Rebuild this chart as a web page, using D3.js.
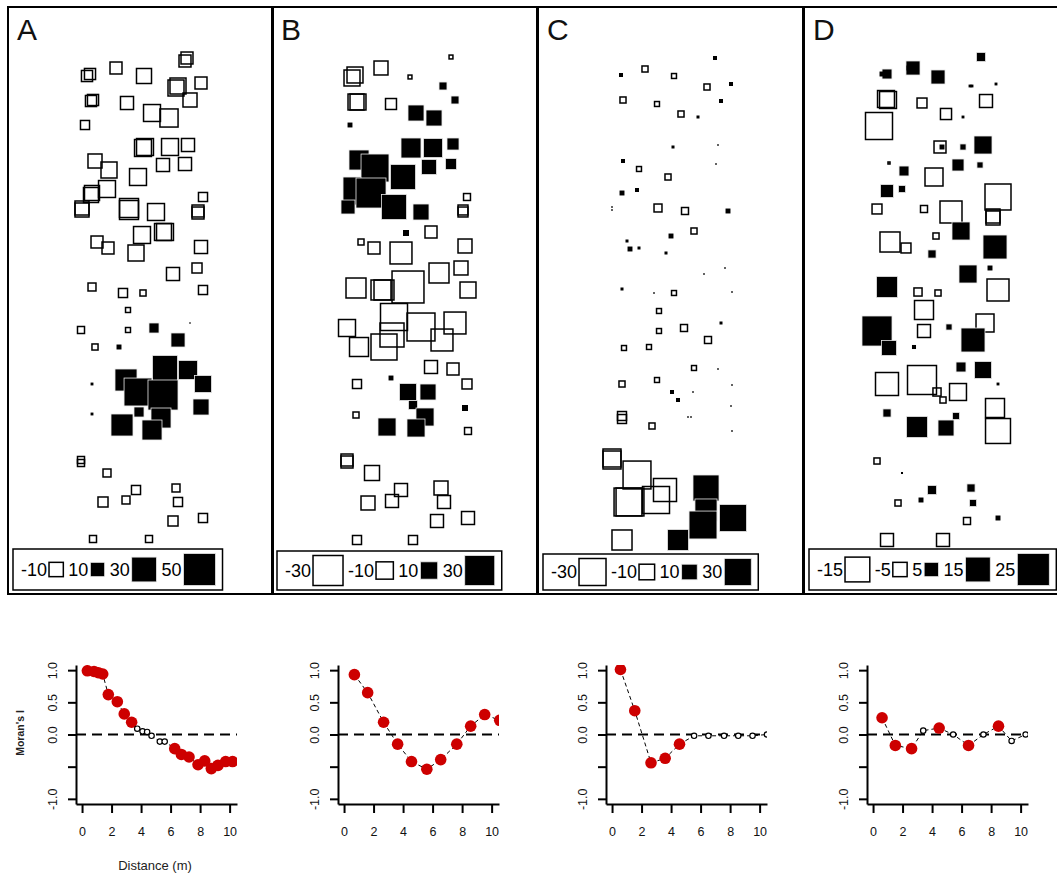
<!DOCTYPE html>
<html>
<head>
<meta charset="utf-8">
<script src="https://cdn.jsdelivr.net/npm/d3@7.9.0/dist/d3.min.js"></script>
<style>
  body { margin: 0; background: #fff; }
  svg { font-family: "Liberation Sans", Arial, sans-serif; }
</style>
</head>
<body>
<svg id="chart" width="1057" height="873"></svg>
<script>
// bubble maps: [x, y, residual] in field units, y counted from the top of the map
const residA = [[179,51,-7],[177,54,-7],[82,67,-6],[79,69,-6],[108,61,-7],[136,69,-11],[170,79,-12.5],[168,81,-12.5],[193,76,-7],[85,93,-6],[83,94,-6],[119,96,-8.3],[182,93,-9.6],[144,106,-14],[161,111,-16],[77,118,-4],[137,140,-14],[135,141,-14],[162,140,-14],[180,138,-8.3],[87,154,-9.6],[155,158,-8.3],[177,157,-8.3],[101,163,-12.5],[130,170,-14],[99,182,-14],[84,186,-11],[83,188,-11],[74,201,-9.6],[74,203,-9.6],[195,190,-4],[121,201,-17.6],[121,203,-17.6],[148,205,-14],[190,204,-7],[190,206,-7],[134,228,-14],[157,225,-14],[155,225,-14],[89,235,-7],[100,241,-7],[128,246,-12.5],[193,240,-8.3],[165,267,-8.3],[189,261,-4.9],[84,280,-3.1],[115,286,-4],[135,286,-1.8],[195,283,-4],[120,303,-1.2],[73,323,-2.4],[120,323,-1.2],[146,321,4.9],[182,316,0.1],[170,333,9.6],[87,340,-1.8],[111,340,1.2],[157,361,30.5],[180,363,17.6],[118,373,23.6],[84,377,0.4],[130,385,38],[155,388,44],[195,377,14],[193,400,12.5],[84,407,0.4],[131,405,4.9],[153,411,19.5],[114,418,23.6],[144,423,19.5],[73,453,-2.4],[73,456,-2.4],[99,466,-3.1],[128,483,-4],[118,493,-3.1],[95,495,-4.9],[168,481,-3.1],[170,495,-4],[165,514,-4.9],[195,511,-4],[85,532,-2.4],[141,532,-2.4]];

const residB = [[179,50,-0.5],[83,68,-8.5],[80,71,-8.5],[109,61,-6.5],[138,70,-0.5],[171,79,2.1],[183,93,2.1],[86,95,-8.5],[84,95,-8.5],[119,97,-4],[144,106,8.5],[162,111,8.5],[78,118,0.8],[139,141,13.3],[161,141,12],[181,137,4.8],[87,153,13.3],[85,184,26],[103,161,26],[131,170,20.8],[157,160,7.5],[179,157,4],[99,186,30],[76,200,6.5],[122,200,20.8],[149,205,8.5],[195,190,-1.6],[191,203,-3.3],[191,205,-3.3],[159,225,-4.8],[134,226,1.2],[89,235,-1.2],[102,241,-4.8],[129,246,-16],[193,239,-6.5],[189,261,-6.5],[167,266,-13.3],[84,281,-13.3],[112,283,-13.3],[109,283,-13.3],[136,280,-34],[196,283,-8.5],[122,310,-24.3],[149,320,-26],[183,316,-16],[75,321,-9.6],[87,340,-12],[112,340,-22.5],[120,328,-19.2],[170,333,-16],[159,360,-5.6],[181,362,-4.8],[85,377,-2.7],[119,371,0.8],[136,385,9.6],[156,385,8.5],[195,377,-3.3],[84,408,-1.2],[141,398,2.7],[153,410,10.8],[115,420,10.8],[144,421,10.8],[193,401,1.2],[196,424,-1.6],[75,453,-4.8],[75,455,-4.8],[100,466,-7.5],[129,483,-5.6],[120,494,-5.6],[96,496,-6.5],[169,481,-6.5],[172,495,-5.6],[165,514,-5.6],[196,511,-5.6],[85,533,-2.7],[141,533,-2.7]];

const residC = [[177,51,0.66],[83,68,0.66],[107,62,-1.5],[136,69,-1],[169,80,-1.5],[193,77,0.66],[85,93,-1.5],[119,97,-1],[143,107,-1.5],[160,110,0.37],[183,94,0.66],[135,140,0.37],[180,138,0.1],[85,154,0.66],[178,157,0.1],[101,162,-1],[130,170,-1.5],[84,186,1],[99,183,0.66],[74,200,0.1],[74,203,0.1],[120,201,-2.6],[147,204,-2],[190,204,1],[133,229,1],[156,224,-1.5],[89,234,0.37],[92,242,1],[101,241,0.37],[128,246,0.37],[166,267,0.1],[187,261,0.1],[84,282,0.37],[116,286,0.1],[136,286,-1],[194,285,0.1],[121,304,-1],[121,324,-1],[146,321,-2],[183,316,0.37],[170,333,-2],[86,341,-1],[111,340,-1],[156,361,-1],[180,362,0.1],[84,377,-1.5],[119,373,-1],[194,378,0.1],[134,385,0.66],[140,393,0.66],[155,385,0.1],[193,399,0.1],[84,409,-3.3],[84,412,-3.3],[114,419,-1.5],[150,410,0.1],[153,410,0.1],[194,424,0.1],[74,451,-13.3],[74,453,-13.3],[99,468,-32],[127,483,-21.8],[92,495,-32],[90,495,-32],[118,493,-30],[168,481,27.8],[168,503,20],[195,511,30],[165,518,32],[140,533,18],[84,533,-16.5]];

const residD = [[177,50,2],[83,67,2.4],[78,67,0.6],[109,61,4.8],[105,61,0.6],[134,70,4.8],[168,79,0.2],[166,79,0.2],[192,77,0.2],[84,93,-7],[82,92,-7],[118,96,-2.4],[142,107,-3],[159,110,0.2],[182,94,-4.1],[75,119,-17.8],[136,140,-3.5],[138,140,0.6],[159,140,0.9],[179,138,7.9],[85,156,-0.1],[154,158,3.5],[176,158,0.9],[100,164,2.4],[130,170,-7.9],[83,184,4.1],[98,182,1.2],[194,190,-16.5],[189,209,-4.8],[189,211,-4.8],[73,202,-2.4],[120,202,-1.2],[147,205,-11.8],[157,224,7.9],[86,235,-9.8],[102,241,-2.4],[132,229,-0.9],[128,247,1.6],[191,240,14],[164,267,7.9],[186,261,0.6],[83,280,10.8],[114,285,-1.6],[134,286,-0.9],[194,283,-11.8],[120,303,-8.8],[73,324,22],[85,341,5.5],[120,324,-4.1],[145,320,0.9],[181,316,-7.9],[169,333,14],[110,340,0.4],[157,360,2.4],[179,363,7],[194,377,0.2],[83,377,-12.9],[118,373,-20.5],[133,385,-1.6],[139,393,-0.9],[154,385,-7],[191,401,-8.8],[194,424,-15.2],[83,406,1.6],[113,420,10.8],[142,421,6.2],[152,409,1.2],[73,454,-0.9],[98,466,0.1],[128,483,2],[167,481,1.6],[117,493,0.6],[94,496,-0.9],[169,496,1.2],[163,514,-1.2],[194,511,0.6],[83,533,-4.1],[139,533,-4.1]];

// legend key values
const keysA = [-10, 10, 30, 50];
const keysB = [-30, -10, 10, 30];
const keysC = [-30, -10, 10, 30];
const keysD = [-15, -5, 5, 15, 25];

// correlograms: lag distance (m), Moran's I, significant?
const lagsA = [0.36,0.81,1.1,1.4,1.78,2.39,2.86,3.36,3.74,4.1,4.41,4.71,5.27,5.6,6.28,6.73,7.25,7.86,8.31,8.76,9.21,9.73,10.2];
const moranA = [0.99,0.98,0.96,0.94,0.62,0.51,0.32,0.19,0.09,0.05,0.04,-0.02,-0.11,-0.11,-0.22,-0.31,-0.35,-0.47,-0.41,-0.53,-0.48,-0.42,-0.42];
const sigA = [1,1,1,1,1,1,1,1,0,0,0,0,0,0,1,1,1,1,1,1,1,1,1];

const lagsB = [0.7,1.6,2.68,3.63,4.57,5.61,6.55,7.64,8.58,9.53,10.55];
const moranB = [0.93,0.65,0.19,-0.15,-0.42,-0.54,-0.39,-0.15,0.13,0.31,0.22];
const sigB = [1,1,1,1,1,1,1,1,1,1,1];

const lagsC = [0.57,1.54,2.64,3.6,4.57,5.56,6.53,7.59,8.55,9.52,10.5];
const moranC = [1.01,0.37,-0.44,-0.37,-0.15,-0.02,-0.02,-0.02,-0.02,-0.02,0];
const sigC = [1,1,1,1,1,0,0,0,0,0,0];

const lagsD = [0.61,1.51,2.61,3.4,4.48,5.43,6.47,7.48,8.5,9.39,10.34];
const moranD = [0.26,-0.17,-0.22,0.06,0.1,0.0,-0.17,0.0,0.13,-0.1,0.0];
const sigD = [1,1,1,0,1,0,1,0,1,0,0];

const svg = d3.select("#chart");

// ---- bubble maps
const mapW = 265, mapH = 587, mapTop = 7;
const fx = d3.scaleLinear().domain([0, 265]).range([0, mapW]);
const fy = d3.scaleLinear().domain([0, 587]).range([0, mapH]);

const maps = [
  { label: "A", left: 8,   pts: residA, keys: keysA, maxV: 50, maxS: 32 },
  { label: "B", left: 272, pts: residB, keys: keysB, maxV: 30, maxS: 30 },
  { label: "C", left: 538, pts: residC, keys: keysC, maxV: 30, maxS: 27 },
  { label: "D", left: 804, pts: residD, keys: keysD, maxV: 25, maxS: 32 }
];

function drawSquare(sel, s, v) {
  sel.attr("fill", v > 0 ? "#000" : "none")
    .attr("stroke", v > 0 ? (s > 6 ? "#e8e8e8" : "none") : "#000")
    .attr("stroke-width", v > 0 ? 0.8 : 1.5);
}

maps.forEach(m => {
  const g = svg.append("g").attr("transform", `translate(${m.left},${mapTop})`);
  const size = d3.scaleSqrt().domain([0, m.maxV]).range([0, m.maxS]);

  g.append("rect")
    .attr("width", mapW).attr("height", mapH)
    .attr("fill", "none").attr("stroke", "#000").attr("stroke-width", 2);

  g.append("text").text(m.label)
    .attr("x", 9).attr("y", 33)
    .attr("font-size", 30).attr("fill", "#111");

  g.selectAll("rect.pt").data(m.pts).join("rect")
    .attr("class", "pt")
    .each(function(d) {
      const s = size(Math.abs(d[2]));
      d3.select(this)
        .attr("x", fx(d[0]) - s / 2).attr("y", fy(d[1]) - s / 2)
        .attr("width", s).attr("height", s)
        .call(drawSquare, s, d[2]);
    });

  // legend
  const lg = g.append("g");
  const boxH = m.maxS + 9, boxBottom = 583;
  const mid = boxBottom - boxH / 2;
  const box = lg.append("rect");
  let cx = 13;
  m.keys.forEach(k => {
    const t = lg.append("text").text(String(k))
      .attr("x", cx).attr("y", mid).attr("dy", "0.35em")
      .attr("font-size", 18).attr("fill", "#000");
    cx += t.node().getComputedTextLength() + 2;
    const s = size(Math.abs(k));
    lg.append("rect")
      .attr("x", cx).attr("y", mid - s / 2)
      .attr("width", s).attr("height", s)
      .call(drawSquare, s, k);
    cx += s + 5;
  });
  box.attr("x", 5).attr("y", boxBottom - boxH)
    .attr("width", cx - 3).attr("height", boxH)
    .attr("fill", "#fff").attr("stroke", "#000").attr("stroke-width", 1.5);
});

// ---- correlograms
const plotTop = 665, plotBottom = 804, plotW = 161;
const cy = d3.scaleLinear().domain([-1.08, 1.08]).range([plotBottom, plotTop]);

const corrs = [
  { left: 76,  lags: lagsA, moran: moranA, sig: sigA },
  { left: 338, lags: lagsB, moran: moranB, sig: sigB },
  { left: 606, lags: lagsC, moran: moranC, sig: sigC },
  { left: 867, lags: lagsD, moran: moranD, sig: sigD }
];

const fontFam = "Liberation Sans, Arial, sans-serif";

corrs.forEach((c, i) => {
  const cx = d3.scaleLinear().domain([-0.41, 10.5]).range([c.left, c.left + plotW]);
  const pts = c.lags.map((l, j) => ({ x: l, y: c.moran[j], sig: c.sig[j] }));

  svg.append("clipPath").attr("id", "clip" + i)
    .append("rect").attr("x", c.left).attr("y", plotTop)
    .attr("width", plotW).attr("height", plotBottom - plotTop);

  const xa = svg.append("g")
    .attr("transform", `translate(0,${plotBottom})`)
    .call(d3.axisBottom(cx).tickValues([0, 2, 4, 6, 8, 10])
      .tickSize(9).tickSizeOuter(0).tickPadding(14));
  const ya = svg.append("g")
    .attr("transform", `translate(${c.left},0)`)
    .call(d3.axisLeft(cy).tickValues([-1, -0.5, 0, 0.5, 1])
      .tickSize(8).tickSizeOuter(0)
      .tickFormat(d => d === -0.5 ? "" : d.toFixed(1)));

  [xa, ya].forEach(a => {
    a.attr("font-family", fontFam).attr("font-size", 12.5);
    a.select(".domain").attr("stroke-width", 2);
    a.selectAll(".tick line").attr("stroke-width", 2);
    a.selectAll(".tick text").attr("fill", "#111");
  });
  ya.selectAll(".tick text")
    .attr("x", null).attr("dy", null)
    .attr("text-anchor", "middle")
    .attr("transform", "translate(-19,0) rotate(-90)");

  svg.append("line")
    .attr("x1", c.left).attr("x2", c.left + plotW)
    .attr("y1", cy(0)).attr("y2", cy(0))
    .attr("stroke", "#000").attr("stroke-width", 2)
    .attr("stroke-dasharray", "10,6");

  const pg = svg.append("g").attr("clip-path", `url(#clip${i})`);
  pg.append("path")
    .datum(pts)
    .attr("d", d3.line().x(d => cx(d.x)).y(d => cy(d.y)))
    .attr("fill", "none").attr("stroke", "#000")
    .attr("stroke-width", 1).attr("stroke-dasharray", "4,3");

  pg.selectAll("circle").data(pts).join("circle")
    .attr("cx", d => cx(d.x)).attr("cy", d => cy(d.y))
    .attr("r", d => d.sig ? 5.8 : 2.7)
    .attr("fill", d => d.sig ? "#cd0000" : "#fff")
    .attr("stroke", d => d.sig ? "none" : "#000")
    .attr("stroke-width", 1.2);
});

svg.append("text")
  .attr("transform", "translate(24,733) rotate(-90)")
  .attr("text-anchor", "middle")
  .attr("font-size", 10.5).attr("font-weight", "bold").attr("fill", "#222")
  .text("Moran's I");

svg.append("text")
  .attr("x", 155).attr("y", 870)
  .attr("text-anchor", "middle")
  .attr("font-size", 13).attr("fill", "#222")
  .text("Distance (m)");
</script>
</body>
</html>
